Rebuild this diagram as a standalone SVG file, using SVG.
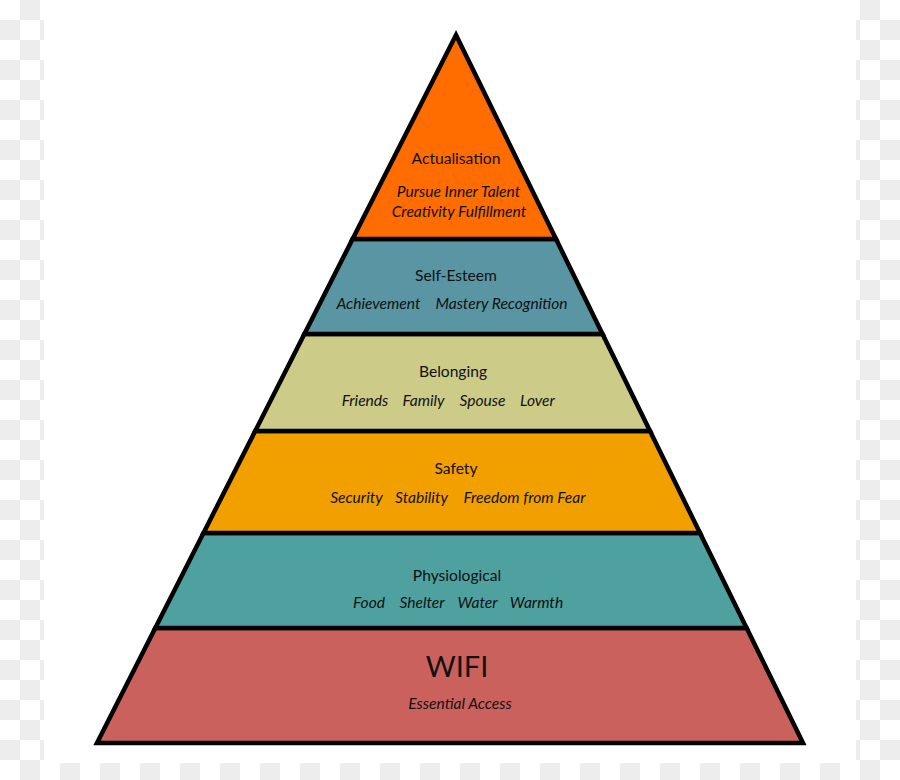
<svg xmlns="http://www.w3.org/2000/svg" width="900" height="780" viewBox="0 0 900 780">
<defs>
<pattern id="checker" x="0" y="0" width="40" height="40" patternUnits="userSpaceOnUse">
<rect x="0" y="0" width="40" height="40" fill="#ffffff"/>
<rect x="20" y="0" width="20" height="20" fill="#ededed"/>
<rect x="0" y="20" width="20" height="20" fill="#ededed"/>
</pattern>
</defs>
<style>
.layer{stroke:#000;stroke-width:4.5;stroke-linejoin:miter}
.t{font-family:Lato,"Open Sans","Liberation Sans",sans-serif;font-size:15.6px;fill:#111;text-anchor:middle}
.i{font-style:italic}
.big{font-size:29px}
</style>
<rect x="0" y="0" width="900" height="780" fill="url(#checker)"/>
<rect x="44" y="0" width="812" height="763" fill="#ffffff"/>

<g id="wifi">
<polygon class="layer" fill="#cb615d" points="155.3,628 746.6,628 803,743 97,743"/>
<text class="t big" x="457" y="677">WIFI</text>
<text class="t i" x="460" y="709">Essential Access</text>
</g>
<g id="physiological">
<polygon class="layer" fill="#4ea19f" points="203.5,533 700,533 746.6,628 155.3,628"/>
<text class="t" x="457" y="581">Physiological</text>
<text class="t i" x="369" y="608">Food</text>
<text class="t i" x="422" y="608">Shelter</text>
<text class="t i" x="477.5" y="608">Water</text>
<text class="t i" x="536.5" y="608">Warmth</text>
</g>
<g id="safety">
<polygon class="layer" fill="#f1a000" points="255.2,431 650,431 700,533 203.5,533"/>
<text class="t" x="456" y="474">Safety</text>
<text class="t i" x="356.5" y="503">Security</text>
<text class="t i" x="421.5" y="503">Stability</text>
<text class="t i" x="524.5" y="503">Freedom from Fear</text>
</g>
<g id="belonging">
<polygon class="layer" fill="#cccc88" points="304.4,334 602.5,334 650,431 255.2,431"/>
<text class="t" x="453" y="377">Belonging</text>
<text class="t i" x="365" y="406">Friends</text>
<text class="t i" x="423.5" y="406">Family</text>
<text class="t i" x="482.5" y="406">Spouse</text>
<text class="t i" x="537.5" y="406">Lover</text>
</g>
<g id="self-esteem">
<polygon class="layer" fill="#5995a3" points="352.6,239 556,239 602.5,334 304.4,334"/>
<text class="t" x="456" y="281">Self-Esteem</text>
<text class="t i" x="378.5" y="309">Achievement</text>
<text class="t i" x="501.5" y="309">Mastery Recognition</text>
</g>
<g id="actualisation">
<polygon class="layer" fill="#ff6c00" points="456,35 556,239 352.6,239"/>
<text class="t" x="456" y="164">Actualisation</text>
<text class="t i" x="458.5" y="197">Pursue Inner Talent</text>
<text class="t i" x="459" y="217">Creativity Fulfillment</text>
</g>
</svg>
